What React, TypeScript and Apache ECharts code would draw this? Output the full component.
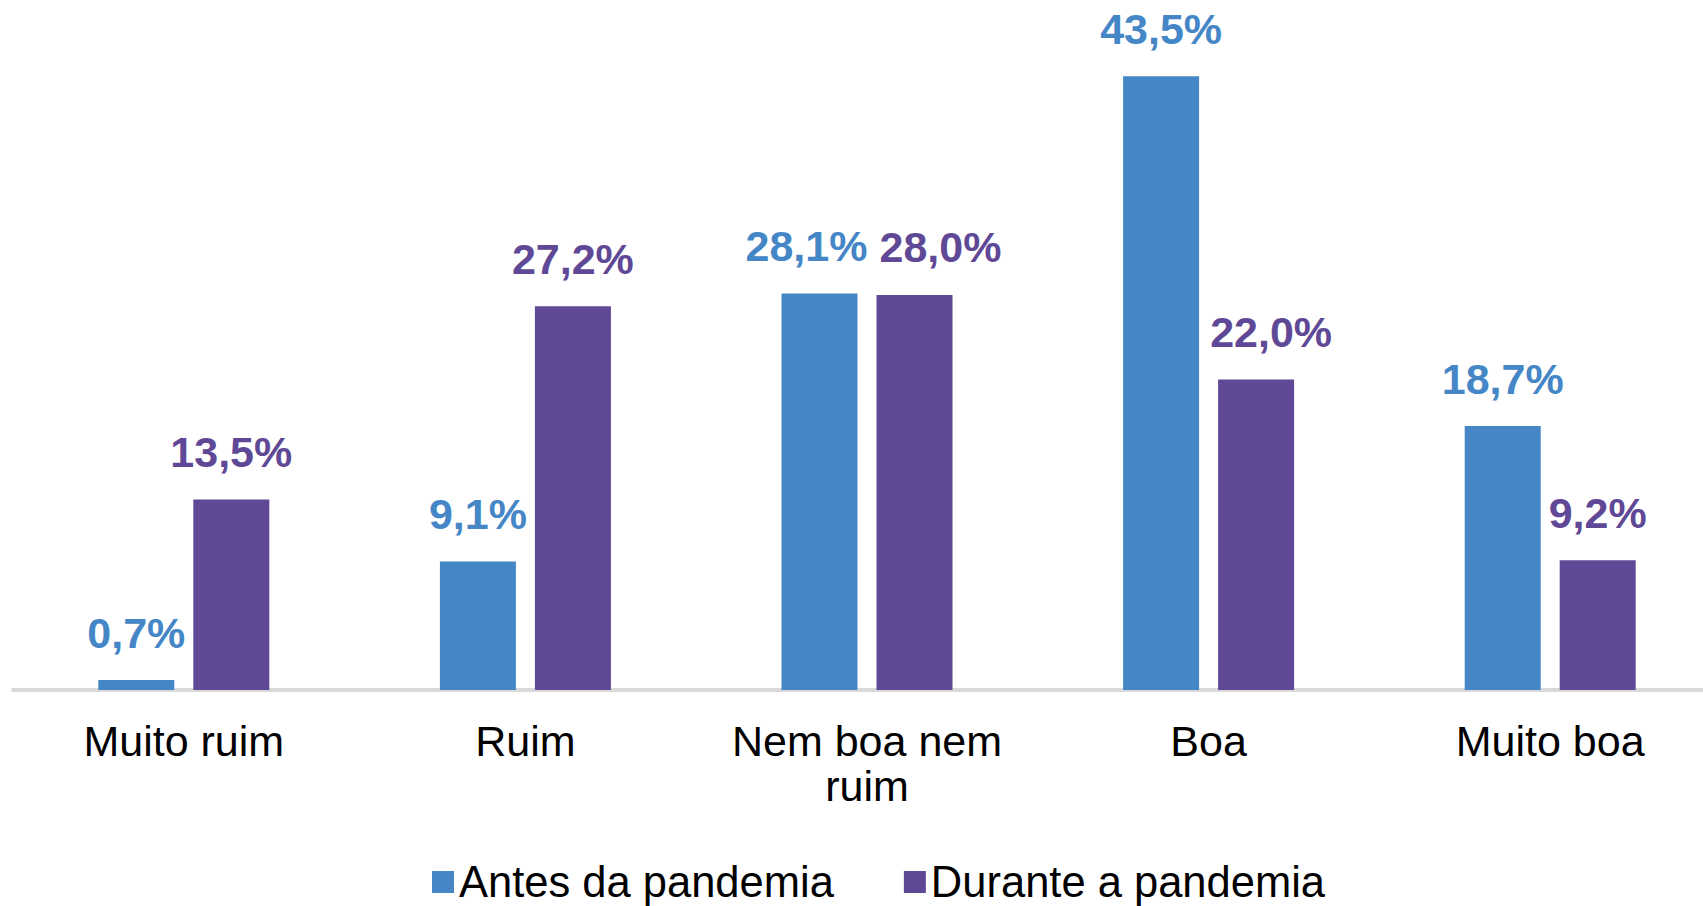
import React, { useEffect, useRef } from "react";
import * as echarts from "echarts";

const categories = ["Muito ruim", "Ruim", "Nem boa nem\nruim", "Boa", "Muito boa"];
const antesValues = [0.7, 9.1, 28.1, 43.5, 18.7];
const duranteValues = [13.5, 27.2, 28.0, 22.0, 9.2];
const seriesNames = ["Antes da pandemia", "Durante a pandemia"];
// horizontal nudges of the value labels, as placed in the reference
const antesLabelShift = [0, 0, -13, 0, 0];
const duranteLabelShift = [0, 0, 26, 15, 0];

const BLUE = "#4486c6";
const PURPLE = "#5f4996";
const FONT = "'Liberation Sans', Arial, sans-serif";

export default function App() {
  const ref = useRef<HTMLDivElement>(null);
  useEffect(() => {
    if (!ref.current) return;
    const chart = echarts.init(ref.current, undefined, { renderer: "svg" });
    const fmt = (p: any) => p.value.toFixed(1).replace(".", ",") + "%";
    const mkLabel = (color: string) => ({
      show: true,
      position: "top",
      distance: 26,
      formatter: fmt,
      color,
      fontSize: 43,
      fontWeight: "bold",
      fontFamily: FONT,
    });
    const mkData = (vals: number[], shifts: number[]) =>
      vals.map((v, i) => ({ value: v, label: { offset: [shifts[i], 0] } }));
    chart.setOption({
      animation: false,
      textStyle: { fontFamily: FONT },
      grid: { left: 13, right: -18, top: 55, bottom: 216, outerBoundsMode: "none", containLabel: false },
      legend: {
        left: 427,
        top: 855,
        itemWidth: 22,
        itemHeight: 22,
        itemGap: 70,
        icon: "rect",
        textStyle: { fontSize: 43.5, color: "#000", fontFamily: FONT },
        data: seriesNames,
      },
      xAxis: {
        type: "category",
        data: categories,
        axisLine: { show: true, lineStyle: { color: "#d9d9d9", width: 4 } },
        axisTick: { show: false },
        axisLabel: {
          interval: 0,
          fontSize: 43,
          lineHeight: 45,
          color: "#000",
          margin: 28,
          fontFamily: FONT,
        },
      },
      yAxis: {
        type: "value",
        min: 0,
        max: 45,
        show: false,
        splitLine: { show: false },
      },
      series: [
        {
          name: seriesNames[0],
          type: "bar",
          data: mkData(antesValues, antesLabelShift),
          barWidth: 76,
          barGap: "25%",
          itemStyle: { color: BLUE },
          label: mkLabel(BLUE),
        },
        {
          name: seriesNames[1],
          type: "bar",
          data: mkData(duranteValues, duranteLabelShift),
          barWidth: 76,
          barGap: "25%",
          itemStyle: { color: PURPLE },
          label: mkLabel(PURPLE),
        },
      ],
    });
    return () => chart.dispose();
  }, []);
  return <div ref={ref} style={{ width: 1703, height: 906, position: "absolute", left: 0, top: 0 }} />;
}
